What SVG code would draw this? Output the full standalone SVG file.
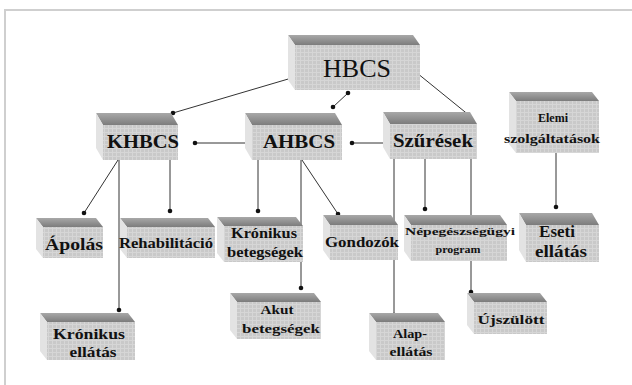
<svg xmlns="http://www.w3.org/2000/svg" width="632" height="385" viewBox="0 0 632 385">
<defs>
<pattern id="grid" width="4" height="4" patternUnits="userSpaceOnUse">
<rect width="4" height="4" fill="#c9c9c9"/>
<path d="M0 0.5H4M0.5 0V4" stroke="#d6d6d6" stroke-width="1"/>
</pattern>
<linearGradient id="topg" x1="0" y1="0" x2="0" y2="1">
<stop offset="0" stop-color="#a8a8a8"/>
<stop offset="1" stop-color="#7c7c7c"/>
</linearGradient>
<marker id="dot" viewBox="0 0 6 6" refX="3" refY="3" markerWidth="6" markerHeight="6" markerUnits="userSpaceOnUse">
<circle cx="3" cy="3" r="2.3" fill="#111"/>
</marker>
</defs>
<style>
.top{fill:url(#topg)}
.side{fill:#e3e3e3}
.front{fill:url(#grid)}
.t{font-family:"Liberation Serif","Times New Roman","DejaVu Serif",serif;font-weight:bold;fill:#111;text-anchor:middle}
.c{stroke:#333;stroke-width:1;fill:none}
</style>
<rect x="0" y="0" width="632" height="385" fill="#fff"/>
<path d="M5 385V10H632" fill="none" stroke="#cfcfcf" stroke-width="2"/>

<g id="connectors">
<line class="c" x1="173" y1="113" x2="295" y2="77" marker-start="url(#dot)" marker-end="url(#dot)"/>
<line class="c" x1="333" y1="107" x2="348" y2="93" marker-start="url(#dot)" marker-end="url(#dot)"/>
<line class="c" x1="417" y1="73" x2="470" y2="116" marker-start="url(#dot)"/>
<line class="c" x1="195" y1="143" x2="253" y2="143" marker-start="url(#dot)" marker-end="url(#dot)"/>
<line class="c" x1="390" y1="143" x2="352" y2="143" marker-end="url(#dot)"/>
<line class="c" x1="118" y1="160" x2="84" y2="213" marker-end="url(#dot)"/>
<line class="c" x1="170" y1="160" x2="170" y2="211" marker-end="url(#dot)"/>
<line class="c" x1="119" y1="160" x2="119" y2="310" marker-end="url(#dot)"/>
<line class="c" x1="258" y1="160" x2="258" y2="211" marker-end="url(#dot)"/>
<line class="c" x1="302" y1="160" x2="338" y2="214" marker-end="url(#dot)"/>
<line class="c" x1="301" y1="160" x2="301" y2="288" marker-end="url(#dot)"/>
<line class="c" x1="425" y1="159" x2="425" y2="209" marker-end="url(#dot)"/>
<line class="c" x1="394" y1="159" x2="394" y2="315" marker-end="url(#dot)"/>
<line class="c" x1="471" y1="116" x2="471" y2="292" marker-end="url(#dot)"/>
<line class="c" x1="556" y1="153" x2="556" y2="207" marker-end="url(#dot)"/>
</g>

<g id="hbcs">
<polygon class="top" points="288,35 413,35 420,45 295,45"/>
<polygon class="side" points="288,35 295,45 295,90 288,80"/>
<rect class="front" x="295" y="45" width="125" height="45"/>
<text class="t" x="357" y="77" font-size="26" style="font-weight:normal">HBCS</text>
</g>

<g id="khbcs">
<polygon class="top" points="96,113 171,113 178,125 103,125"/>
<polygon class="side" points="96,113 103,125 103,160 96,148"/>
<rect class="front" x="103" y="125" width="75" height="35"/>
<text class="t" x="143" y="148" font-size="18" textLength="72" lengthAdjust="spacingAndGlyphs">KHBCS</text>
</g>

<g id="ahbcs">
<polygon class="top" points="245,113 335,113 342,125 252,125"/>
<polygon class="side" points="245,113 252,125 252,160 245,148"/>
<rect class="front" x="252" y="125" width="90" height="35"/>
<text class="t" x="299" y="148" font-size="18" textLength="72" lengthAdjust="spacingAndGlyphs">AHBCS</text>
</g>

<g id="szuresek">
<polygon class="top" points="383,112 470,112 477,124 390,124"/>
<polygon class="side" points="383,112 390,124 390,159 383,147"/>
<rect class="front" x="390" y="124" width="87" height="35"/>
<text class="t" x="433" y="147" font-size="18" textLength="80" lengthAdjust="spacingAndGlyphs">Szűrések</text>
</g>

<g id="elemi">
<polygon class="top" points="509,92 592,92 599,101 516,101"/>
<polygon class="side" points="509,92 516,101 516,153 509,144"/>
<rect class="front" x="516" y="101" width="83" height="52"/>
<text class="t" x="553" y="122" font-size="12">Elemi</text>
<text class="t" x="552" y="143" font-size="12" textLength="96" lengthAdjust="spacingAndGlyphs">szolgáltatások</text>
</g>

<g id="apolas">
<polygon class="top" points="36,218 96,218 103,227 43,227"/>
<polygon class="side" points="36,218 43,227 43,258 36,249"/>
<rect class="front" x="43" y="227" width="60" height="31"/>
<text class="t" x="74" y="250" font-size="17" textLength="58" lengthAdjust="spacingAndGlyphs">Ápolás</text>
</g>

<g id="rehab">
<polygon class="top" points="120,218 208,218 215,227 127,227"/>
<polygon class="side" points="120,218 127,227 127,258 120,249"/>
<rect class="front" x="127" y="227" width="88" height="31"/>
<text class="t" x="166" y="248" font-size="14" textLength="94" lengthAdjust="spacingAndGlyphs">Rehabilitáció</text>
</g>

<g id="kronbeteg">
<polygon class="top" points="217,217 296,217 303,226 224,226"/>
<polygon class="side" points="217,217 224,226 224,262 217,253"/>
<rect class="front" x="224" y="226" width="79" height="36"/>
<text class="t" x="264" y="238" font-size="14" textLength="66" lengthAdjust="spacingAndGlyphs">Krónikus</text>
<text class="t" x="265" y="257" font-size="14" textLength="76" lengthAdjust="spacingAndGlyphs">betegségek</text>
</g>

<g id="gondozok">
<polygon class="top" points="323,215 391,215 398,225 330,225"/>
<polygon class="side" points="323,215 330,225 330,260 323,250"/>
<rect class="front" x="330" y="225" width="68" height="35"/>
<text class="t" x="362" y="247" font-size="15" textLength="74" lengthAdjust="spacingAndGlyphs">Gondozók</text>
</g>

<g id="nepeg">
<polygon class="top" points="404,215 500,215 507,225 411,225"/>
<polygon class="side" points="404,215 411,225 411,261 404,251"/>
<rect class="front" x="411" y="225" width="96" height="36"/>
<text class="t" x="460" y="235" font-size="11" textLength="110" lengthAdjust="spacingAndGlyphs">Népegészségügyi</text>
<text class="t" x="458" y="253" font-size="11" textLength="45" lengthAdjust="spacingAndGlyphs">program</text>
</g>

<g id="eseti">
<polygon class="top" points="519,213 592,213 599,225 526,225"/>
<polygon class="side" points="519,213 526,225 526,262 519,250"/>
<rect class="front" x="526" y="225" width="73" height="37"/>
<text class="t" x="557" y="237" font-size="17">Eseti</text>
<text class="t" x="561" y="257" font-size="17" textLength="52" lengthAdjust="spacingAndGlyphs">ellátás</text>
</g>

<g id="kronell">
<polygon class="top" points="40,313 128,313 135,322 47,322"/>
<polygon class="side" points="40,313 47,322 47,360 40,351"/>
<rect class="front" x="47" y="322" width="88" height="38"/>
<text class="t" x="89" y="339" font-size="14" textLength="72" lengthAdjust="spacingAndGlyphs">Krónikus</text>
<text class="t" x="93" y="357" font-size="14" textLength="47" lengthAdjust="spacingAndGlyphs">ellátás</text>
</g>

<g id="akut">
<polygon class="top" points="230,293 314,293 321,302 237,302"/>
<polygon class="side" points="230,293 237,302 237,339 230,330"/>
<rect class="front" x="237" y="302" width="84" height="37"/>
<text class="t" x="277" y="314" font-size="13" textLength="33" lengthAdjust="spacingAndGlyphs">Akut</text>
<text class="t" x="281" y="333" font-size="13" textLength="78" lengthAdjust="spacingAndGlyphs">betegségek</text>
</g>

<g id="alap">
<polygon class="top" points="369,313 438,313 445,322 376,322"/>
<polygon class="side" points="369,313 376,322 376,360 369,351"/>
<rect class="front" x="376" y="322" width="69" height="38"/>
<text class="t" x="410" y="338" font-size="13" textLength="34" lengthAdjust="spacingAndGlyphs">Alap-</text>
<text class="t" x="411" y="356" font-size="13" textLength="43" lengthAdjust="spacingAndGlyphs">ellátás</text>
</g>

<g id="ujszulott">
<polygon class="top" points="467,293 540,293 547,302 474,302"/>
<polygon class="side" points="467,293 474,302 474,334 467,325"/>
<rect class="front" x="474" y="302" width="73" height="32"/>
<text class="t" x="511" y="324" font-size="13" textLength="67" lengthAdjust="spacingAndGlyphs">Újszülött</text>
</g>
</svg>
